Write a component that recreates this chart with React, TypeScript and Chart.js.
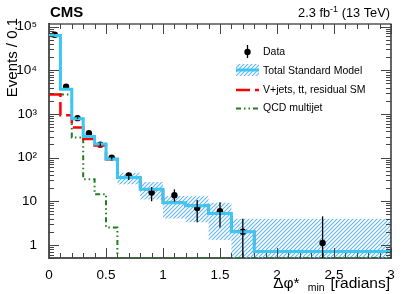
import React, { useEffect, useRef } from 'react';
import { Chart, registerables } from 'chart.js';

Chart.register(...registerables);

// ---- data ----
const binEdges = [0, 0.1, 0.2, 0.3, 0.4, 0.5, 0.6, 0.8, 1.0, 1.2, 1.4, 1.6, 1.8, 3.0];
const totalSM = [63000, 3700, 780, 305, 205, 93, 35, 18.7, 9.2, 7.9, 5.2, 2.0, 0.7];
const totalSMLow = [60000, 3500, 720, 285, 190, 84, 24.4, 11, 4.0, 3.3, 1.3, 0.2, 0.2];
const totalSMHigh = [66000, 3950, 840, 335, 220, 104, 45, 27.5, 13.2, 13.0, 9.2, 3.95, 3.95];
const vjetsResidual = [2800, 930, 490, 265, 190, 91, 35, 18.7, 9.2, 7.9, 5.2, 2.0, 0.7];
const qcdMultijet = [60000, 2800, 290, 32, 14.5, 2.5, 0, 0, 0, 0, 0, 0, 0];

const dataX = [0.05, 0.15, 0.25, 0.35, 0.45, 0.55, 0.7, 0.9, 1.1, 1.3, 1.5, 1.7, 2.4];
const dataY = [65000, 4200, 800, 360, 198, 100, 39, 15.8, 13.7, 7.0, 5.9, 2.0, 1.1];
const dataErrUp = [300, 70, 30, 20, 14, 10, 6, 5.4, 5.0, 3.6, 3.6, 1.95, 3.4];
const dataErrDown = [300, 70, 30, 20, 14, 10, 8.4, 5.8, 3.9, 3.7, 3.4, 1.8, 1.0];

const xLabelValues = [0, 0.5, 1, 1.5, 2, 2.5, 3];
const xTickLabels = ['0', '0.5', '1', '1.5', '2', '2.5', '3'];
const yLabelValues = [1, 10, 100, 1000, 10000, 100000];
const yTickLabels = ['1', '10', '10²', '10³', '10⁴', '10⁵'];

const X_MIN = 0;
const X_MAX = 3;
const Y_MIN = 0.5;
const Y_MAX = 1.15e5;

const legendLabels = ['Data', 'Total Standard Model', 'V+jets, tt, residual SM', 'QCD multijet'];

// ---- styles ----
const FONT = '"Liberation Sans", Arial, Helvetica, sans-serif';
const CYAN = '#3cc6f4';
const RED = '#ff0000';
const GREEN = '#1f7f1f';
const HATCH = 'rgb(105,185,238)';
const RED_DASH = [14, 5];
const GREEN_DASH = [5, 3, 1.5, 3, 1.5, 3];

const stepPoints = (vals: number[]) =>
  binEdges.map((e, i) => {
    const v = vals[Math.min(i, vals.length - 1)];
    return { x: e, y: v > 0 ? v : Y_MIN };
  });

const xMinorTicks = () => {
  const out: number[] = [];
  for (let i = 0; i <= 30; i++) out.push(i / 10);
  return out;
};
const yMinorTicks = () => {
  const out: number[] = [];
  for (let e = -1; e <= 5; e++) {
    for (let k = 1; k <= 9; k++) {
      const v = Number((k * Math.pow(10, e)).toPrecision(3));
      if (v >= Y_MIN && v <= Y_MAX) out.push(v);
    }
  }
  return out;
};

function makeHatch(): CanvasPattern | string {
  const c = document.createElement('canvas');
  c.width = 4;
  c.height = 4;
  const g = c.getContext('2d');
  if (!g) return HATCH;
  g.strokeStyle = HATCH;
  g.lineWidth = 1.2;
  g.beginPath();
  g.moveTo(0, 4);
  g.lineTo(4, 0);
  g.moveTo(-1, 1);
  g.lineTo(1, -1);
  g.moveTo(3, 5);
  g.lineTo(5, 3);
  g.stroke();
  return g.createPattern(c, 'repeat') || HATCH;
}

export default function App() {
  const ref = useRef<HTMLCanvasElement | null>(null);

  useEffect(() => {
    const canvas = ref.current;
    if (!canvas) return;
    const hatch = makeHatch();

    const rootPlugin = {
      id: 'rootStyle',
      beforeDatasetsDraw(chart: any) {
        // uncertainty band of the total SM prediction
        const { ctx, chartArea: a, scales } = chart;
        const xs = scales.x;
        const ys = scales.y;
        ctx.save();
        ctx.beginPath();
        ctx.rect(a.left, a.top, a.right - a.left, a.bottom - a.top);
        ctx.clip();
        ctx.fillStyle = hatch as any;
        for (let i = 0; i < totalSMLow.length; i++) {
          const x0 = xs.getPixelForValue(binEdges[i]);
          const x1 = xs.getPixelForValue(binEdges[i + 1]);
          const yHi = ys.getPixelForValue(totalSMHigh[i]);
          const yLo = ys.getPixelForValue(totalSMLow[i]);
          ctx.fillRect(x0, yHi, x1 - x0, yLo - yHi);
        }
        ctx.restore();
      },
      afterDraw(chart: any) {
        const { ctx, chartArea: a, scales } = chart;
        const xs = scales.x;
        const ys = scales.y;
        ctx.save();

        // error bars
        ctx.save();
        ctx.beginPath();
        ctx.rect(a.left, a.top, a.right - a.left, a.bottom - a.top);
        ctx.clip();
        ctx.strokeStyle = '#000';
        ctx.lineWidth = 1.3;
        dataX.forEach((x, i) => {
          const px = xs.getPixelForValue(x);
          const lo = Math.max(dataY[i] - dataErrDown[i], 0.01);
          const hi = dataY[i] + dataErrUp[i];
          ctx.beginPath();
          ctx.moveTo(px, ys.getPixelForValue(hi));
          ctx.lineTo(px, ys.getPixelForValue(lo));
          ctx.stroke();
        });
        ctx.restore();

        // frame top / right
        ctx.strokeStyle = '#000';
        ctx.lineWidth = 1.2;
        ctx.beginPath();
        ctx.moveTo(a.left, a.top);
        ctx.lineTo(a.right, a.top);
        ctx.lineTo(a.right, a.bottom);
        ctx.stroke();

        // inward ticks
        ctx.strokeStyle = '#444';
        ctx.lineWidth = 1;
        ctx.beginPath();
        for (const t of ys.ticks) {
          const py = Math.round(ys.getPixelForValue(t.value)) + 0.5;
          const major = yLabelValues.some((v) => Math.abs(v - t.value) / v < 1e-6);
          const len = major ? 10 : 5;
          ctx.moveTo(a.left, py);
          ctx.lineTo(a.left + len, py);
          ctx.moveTo(a.right, py);
          ctx.lineTo(a.right - len, py);
        }
        for (const t of xs.ticks) {
          const px = Math.round(xs.getPixelForValue(t.value)) + 0.5;
          const major = xLabelValues.some((v) => Math.abs(v - t.value) < 1e-6);
          const len = major ? 10 : 5;
          ctx.moveTo(px, a.bottom);
          ctx.lineTo(px, a.bottom - len);
          ctx.moveTo(px, a.top);
          ctx.lineTo(px, a.top + len);
        }
        ctx.stroke();

        // legend
        const lx0 = 236;
        const lx1 = 259;
        const tx = 263;
        const rows = [52, 71, 90, 108.5];
        ctx.fillStyle = '#000';
        ctx.font = `10.5px ${FONT}`;
        ctx.textBaseline = 'middle';
        ctx.textAlign = 'left';
        legendLabels.forEach((l, i) => ctx.fillText(l, tx, rows[i]));
        // data marker
        ctx.strokeStyle = '#000';
        ctx.lineWidth = 1.3;
        ctx.beginPath();
        ctx.moveTo(247.5, rows[0] - 7);
        ctx.lineTo(247.5, rows[0] + 6);
        ctx.stroke();
        ctx.beginPath();
        ctx.arc(247.5, rows[0], 3.2, 0, Math.PI * 2);
        ctx.fill();
        // total SM box
        ctx.fillStyle = hatch as any;
        ctx.fillRect(lx0, rows[1] - 7, lx1 - lx0, 12);
        ctx.strokeStyle = CYAN;
        ctx.lineWidth = 3;
        ctx.beginPath();
        ctx.moveTo(lx0, rows[1] - 1);
        ctx.lineTo(lx1, rows[1] - 1);
        ctx.stroke();
        // red dashed
        ctx.strokeStyle = RED;
        ctx.lineWidth = 2.5;
        ctx.setLineDash(RED_DASH);
        ctx.beginPath();
        ctx.moveTo(lx0, rows[2]);
        ctx.lineTo(lx1, rows[2]);
        ctx.stroke();
        // green
        ctx.strokeStyle = GREEN;
        ctx.lineWidth = 2;
        ctx.setLineDash(GREEN_DASH);
        ctx.beginPath();
        ctx.moveTo(lx0, rows[3]);
        ctx.lineTo(lx1, rows[3]);
        ctx.stroke();
        ctx.setLineDash([]);

        // CMS label
        ctx.fillStyle = '#000';
        ctx.textBaseline = 'alphabetic';
        ctx.font = `bold 15px ${FONT}`;
        ctx.textAlign = 'left';
        ctx.fillText('CMS', 50, 17);

        // luminosity label
        ctx.textAlign = 'right';
        ctx.font = `12.8px ${FONT}`;
        const rightText = ' (13 TeV)';
        const wR = ctx.measureText(rightText).width;
        ctx.fillText(rightText, 390, 17);
        ctx.font = `9px ${FONT}`;
        const sup = '-1';
        const wS = ctx.measureText(sup).width;
        ctx.fillText(sup, 390 - wR, 12);
        ctx.font = `12.8px ${FONT}`;
        ctx.fillText('2.3 fb', 390 - wR - wS, 17);

        // x title
        ctx.font = `15.5px ${FONT}`;
        const t1 = '[radians]';
        const w1 = ctx.measureText(t1).width;
        ctx.fillText(t1, 390, 288);
        ctx.font = `10.5px ${FONT}`;
        const t2 = 'min';
        const w2 = ctx.measureText(t2).width;
        ctx.fillText(t2, 390 - w1 - 6, 291);
        ctx.font = `15.5px ${FONT}`;
        ctx.fillText('Δφ*', 390 - w1 - 6 - w2 - 8, 288);

        // y title
        ctx.save();
        ctx.translate(13, 18);
        ctx.rotate(-Math.PI / 2);
        ctx.textAlign = 'right';
        ctx.textBaseline = 'middle';
        ctx.font = `15px ${FONT}`;
        ctx.fillText('Events / 0.1', 0, 0);
        ctx.restore();

        ctx.restore();
      },
    };

    const stepBase = { stepped: 'before' as const, pointRadius: 0, tension: 0, fill: false };

    const chart = new Chart(canvas, {
      type: 'line',
      data: {
        datasets: [
          {
            ...stepBase,
            label: legendLabels[1],
            data: stepPoints(totalSM),
            borderColor: CYAN,
            borderWidth: 3,
          },
          {
            ...stepBase,
            label: legendLabels[2],
            data: stepPoints(vjetsResidual),
            borderColor: RED,
            borderWidth: 2.5,
            borderDash: RED_DASH,
          },
          {
            ...stepBase,
            label: legendLabels[3],
            data: stepPoints(qcdMultijet),
            borderColor: GREEN,
            borderWidth: 2,
            borderDash: GREEN_DASH,
          },
          {
            label: legendLabels[0],
            data: dataX.map((x, i) => ({ x, y: dataY[i] })),
            showLine: false,
            pointRadius: 3.2,
            pointBackgroundColor: '#000',
            pointBorderColor: '#000',
            pointBorderWidth: 0,
            fill: false,
          },
        ],
      },
      options: {
        animation: false,
        responsive: false,
        devicePixelRatio: 1,
        layout: { padding: { top: 24, right: 16, left: 0, bottom: 0 } },
        plugins: { legend: { display: false }, tooltip: { enabled: false } },
        scales: {
          x: {
            type: 'linear',
            min: X_MIN,
            max: X_MAX,
            afterBuildTicks: (s: any) => {
              s.ticks = xMinorTicks().map((v) => ({ value: v }));
            },
            afterFit: (s: any) => {
              s.height = 36;
            },
            grid: { display: false },
            border: { display: true, color: '#555', width: 2 },
            ticks: {
              autoSkip: false,
              maxRotation: 0,
              padding: 1,
              color: '#000',
              font: { family: FONT, size: 13.5 },
              callback: (value: any) => {
                const i = xLabelValues.findIndex((v) => Math.abs(v - Number(value)) < 1e-6);
                return i >= 0 ? xTickLabels[i] : '';
              },
            },
          },
          y: {
            type: 'logarithmic',
            min: Y_MIN,
            max: Y_MAX,
            afterBuildTicks: (s: any) => {
              s.ticks = yMinorTicks().map((v) => ({ value: v }));
            },
            afterFit: (s: any) => {
              s.width = 49;
            },
            grid: { display: false },
            border: { display: true, color: '#555', width: 2 },
            ticks: {
              autoSkip: false,
              padding: 4,
              color: '#000',
              font: { family: FONT, size: 13.5 },
              callback: (value: any) => {
                const i = yLabelValues.findIndex((v) => Math.abs(v - Number(value)) / v < 1e-6);
                return i >= 0 ? yTickLabels[i] : '';
              },
            },
          },
        },
      },
      plugins: [rootPlugin],
    });

    return () => chart.destroy();
  }, []);

  return (
    <div style={{ position: 'fixed', left: 0, top: 0, width: 407, height: 294, background: '#fff' }}>
      <canvas ref={ref} width={407} height={294} style={{ display: 'block' }} />
    </div>
  );
}
